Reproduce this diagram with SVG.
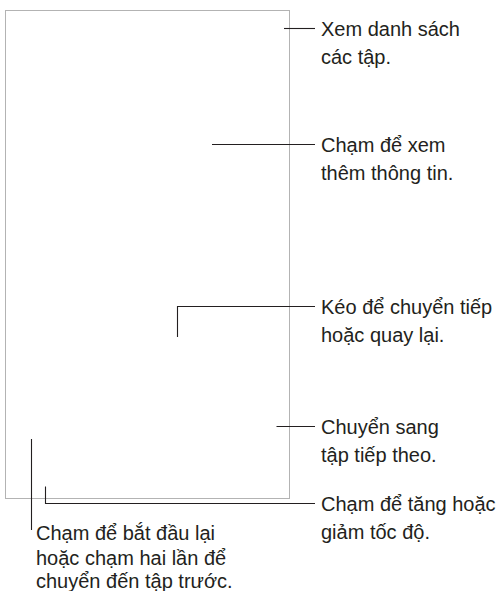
<svg xmlns="http://www.w3.org/2000/svg" width="500" height="591" viewBox="0 0 500 591">
<style>
.frame{fill:none;stroke:#b3b3b3;stroke-width:1}
.lead{fill:none;stroke:#231f20;stroke-width:1.1}
.lbl{font-family:"Liberation Sans",Arial,Helvetica,sans-serif;font-size:20px;fill:#231f20}
</style>
<rect width="500" height="591" fill="#ffffff"/>
<g id="screen"><rect class="frame" x="5.5" y="10.5" width="284" height="488"/></g>
<g id="connectors">
<path class="lead" d="M284 28.5H315"/>
<path class="lead" d="M212 144.5H315"/>
<path class="lead" d="M177.5 337V306.5H315"/>
<path class="lead" d="M276.5 426.5H315"/>
<path class="lead" d="M31.5 439V530"/>
<path class="lead" d="M45.5 486.5V503.5H315"/>
</g>
<g id="label-episodes"><text class="lbl" x="321" y="35.5">Xem danh sách</text><text class="lbl" x="321" y="63.8">các tập.</text></g>
<g id="label-info"><text class="lbl" x="321" y="151.5">Chạm để xem</text><text class="lbl" x="321" y="179.8">thêm thông tin.</text></g>
<g id="label-scrub"><text class="lbl" x="321" y="314">Kéo để chuyển tiếp</text><text class="lbl" x="321" y="342.3">hoặc quay lại.</text></g>
<g id="label-next"><text class="lbl" x="321" y="434">Chuyển sang</text><text class="lbl" x="321" y="462.3">tập tiếp theo.</text></g>
<g id="label-speed"><text class="lbl" x="321" y="511">Chạm để tăng hoặc</text><text class="lbl" x="321" y="539.3">giảm tốc độ.</text></g>
<g id="label-restart"><text class="lbl" x="36" y="539.5">Chạm để bắt đầu lại</text><text class="lbl" x="36" y="565">hoặc chạm hai lần để</text><text class="lbl" x="36" y="588">chuyển đến tập trước.</text></g>
</svg>
